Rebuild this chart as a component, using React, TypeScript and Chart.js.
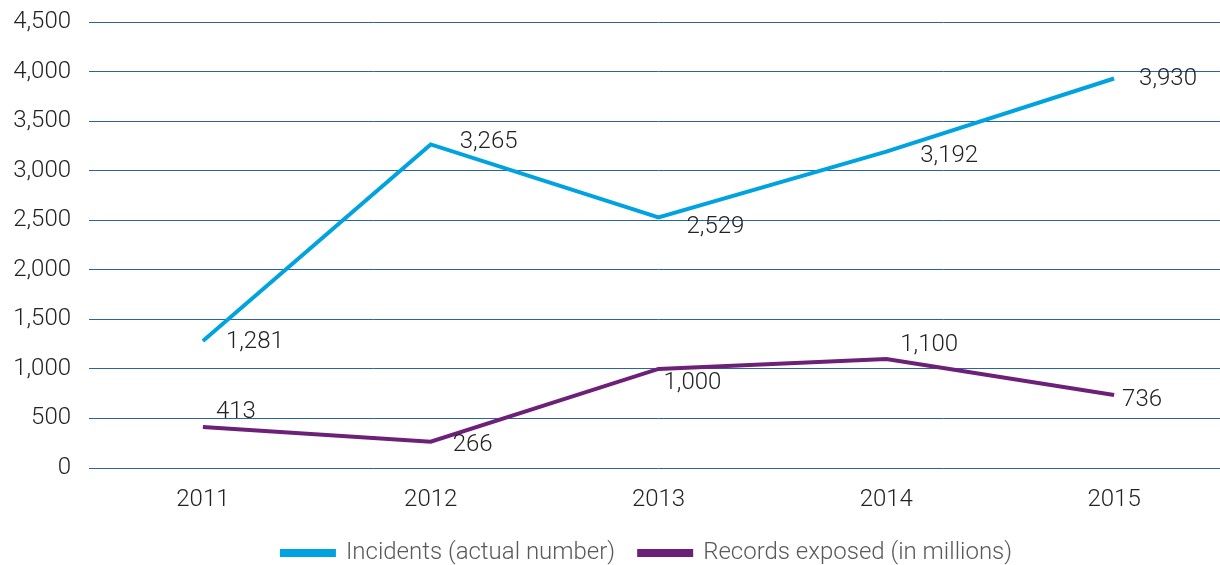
import React, { useEffect, useRef } from "react";
import { Chart, registerables } from "chart.js";

Chart.register(...registerables);

const categories = ["2011", "2012", "2013", "2014", "2015"];
const incidents = [1281, 3265, 2529, 3192, 3930];
const records = [413, 266, 1000, 1100, 736];
const seriesNames = ["Incidents (actual number)", "Records exposed (in millions)"];

const FONT = "Roboto, 'Liberation Sans', sans-serif";
const FS = 24;

const labelPlugin = {
  id: "pointLabels",
  afterDatasetsDraw(chart: any, _args: any, opts: any) {
    const ctx = chart.ctx;
    ctx.save();
    ctx.font = `300 ${FS}px ${FONT}`;
    ctx.fillStyle = "#222222";
    ctx.textAlign = "left";
    ctx.textBaseline = "middle";
    chart.data.datasets.forEach((ds: any, di: number) => {
      const meta = chart.getDatasetMeta(di);
      const offs = opts.offsets[di];
      meta.data.forEach((pt: any, i: number) => {
        const v = ds.data[i];
        const txt = v.toLocaleString("en-US");
        ctx.fillText(txt, pt.x + offs[i][0], pt.y + offs[i][1]);
      });
    });
    ctx.restore();
  },
};

const legendShift = {
  id: "legendShift",
  afterLayout(chart: any) {
    if (chart.legend) chart.legend.left += 66;
  },
};

export default function App() {
  const ref = useRef<HTMLCanvasElement>(null);
  useEffect(() => {
    const chart = new Chart(ref.current!, {
      type: "line",
      data: {
        labels: categories,
        datasets: [
          {
            label: seriesNames[0],
            data: incidents,
            borderColor: "#00a3e0",
            backgroundColor: "#00a3e0",
            borderWidth: 4,
            pointRadius: 0,
            tension: 0,
          },
          {
            label: seriesNames[1],
            data: records,
            borderColor: "#6d2077",
            backgroundColor: "#6d2077",
            borderWidth: 4,
            pointRadius: 0,
            tension: 0,
          },
        ],
      },
      options: {
        animation: false,
        responsive: false,
        layout: { padding: { top: 22, left: 0, right: 12, bottom: -10 } },
        scales: {
          x: {
            offset: true,
            grid: { display: false },
            border: { display: false },
            ticks: { color: "#222222", font: { family: FONT, size: FS, weight: "300" as any }, padding: 10 },
            afterFit: (s: any) => { s.height = 49; },
          },
          y: {
            min: 0,
            max: 4500,
            ticks: {
              stepSize: 500,
              color: "#222222",
              font: { family: FONT, size: FS, weight: "300" as any },
              padding: 18,
              callback: (v: any) => Number(v).toLocaleString("en-US"),
            },
            grid: { color: "#2a62a6", lineWidth: 1, drawTicks: false },
            border: { display: false },
            afterFit: (s: any) => { s.width = 89; s.paddingTop = 0; s.paddingBottom = 0; },
          },
        },
        plugins: {
          legend: {
            position: "bottom",
            labels: {
              color: "#595959",
              font: { family: FONT, size: FS, weight: "300" as any },
              boxWidth: 52,
              boxHeight: 4,
              padding: 24,
            },
          },
          tooltip: { enabled: false },
          pointLabels: {
            offsets: [
              [[23, 1], [29, -2], [28, 10], [34, 4], [25, 1]],
              [[13, -15], [22, 3], [5, 14], [14, -14], [8, 5]],
            ],
          },
        } as any,
      },
      plugins: [labelPlugin, legendShift],
    });
    return () => chart.destroy();
  }, []);
  return (
    <div style={{ position: "fixed", left: 0, top: 0, width: 1220, height: 565, overflow: "hidden", background: "#fff" }}>
      <canvas ref={ref} width={1240} height={565} style={{ width: 1240, height: 565, display: "block" }} />
    </div>
  );
}
